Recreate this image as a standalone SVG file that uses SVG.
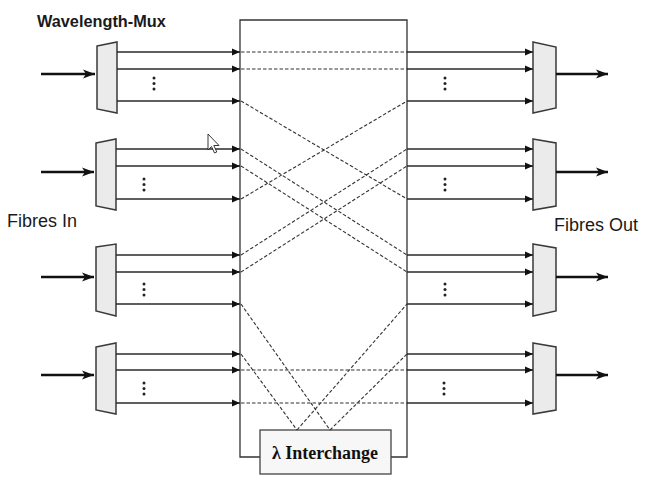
<svg xmlns="http://www.w3.org/2000/svg" width="647" height="488" viewBox="0 0 647 488">
<style>
.mux{fill:#ebebeb;stroke:#3a3a3a;stroke-width:1.5}
.sl{stroke:#2a2a2a;stroke-width:1.4;fill:none}
.dl{stroke:#333;stroke-width:1.1;stroke-dasharray:3.5 2;fill:none}
.big{stroke:#111;stroke-width:2.3;fill:none}
.frame{stroke:#333;stroke-width:1.3;fill:none}
.dot{fill:#222}
.lbl{font-family:"Liberation Sans",Arial,sans-serif;fill:#1a1a1a}
</style>
<defs>
<marker id="ah" viewBox="0 0 8 8" refX="8" refY="4" markerWidth="8" markerHeight="8" markerUnits="userSpaceOnUse" orient="auto">
<path d="M0,0.5 L8,4 L0,7.5 Z" fill="#111"/>
</marker>
<marker id="bh" viewBox="0 0 12 10" refX="12" refY="5" markerWidth="12" markerHeight="10" markerUnits="userSpaceOnUse" orient="auto">
<path d="M0,0.5 L12,5 L0,9.5 L3,5 Z" fill="#111"/>
</marker>
</defs>
<rect width="647" height="488" fill="#fff"/>

<text class="lbl" x="37" y="27" font-size="16.3" font-weight="bold">Wavelength-Mux</text>
<text class="lbl" x="7" y="227" font-size="18">Fibres In</text>
<text class="lbl" x="554" y="231" font-size="18">Fibres Out</text>

<g id="switch">
<path class="frame" d="M260,457 H240 V20 H407 V457 H391"/>
</g>
<g id="interchange">
<rect x="260" y="430" width="131" height="44" fill="#f7f7f7" stroke="#444" stroke-width="1.3"/>
<text x="272" y="458.5" textLength="106" lengthAdjust="spacingAndGlyphs" font-family="'Liberation Serif','Times New Roman',serif" font-weight="bold" font-size="18.5" fill="#111">λ Interchange</text>
</g>

<g id="demux-in-1"><polygon class="mux" points="97,46 117,42 117,113 97,109"/></g>
<g id="demux-in-2"><polygon class="mux" points="96,143 116,139 116,210 96,206"/></g>
<g id="demux-in-3"><polygon class="mux" points="96,247 116,244 116,316 96,311"/></g>
<g id="demux-in-4"><polygon class="mux" points="96,347 116,343 116,414 96,410"/></g>

<g id="mux-out-1"><polygon class="mux" points="533,42 556,47 556,108 533,113"/></g>
<g id="mux-out-2"><polygon class="mux" points="533,139 556,143 556,206 533,210"/></g>
<g id="mux-out-3"><polygon class="mux" points="533,244 556,248 556,311 533,316"/></g>
<g id="mux-out-4"><polygon class="mux" points="533,343 556,347 556,410 533,414"/></g>

<g id="dots">
<circle class="dot" cx="154" cy="78" r="1.5"/><circle class="dot" cx="154" cy="83.5" r="1.5"/><circle class="dot" cx="154" cy="89" r="1.5"/>
<circle class="dot" cx="144" cy="179" r="1.5"/><circle class="dot" cx="144" cy="184.5" r="1.5"/><circle class="dot" cx="144" cy="190" r="1.5"/>
<circle class="dot" cx="144" cy="284" r="1.5"/><circle class="dot" cx="144" cy="289.5" r="1.5"/><circle class="dot" cx="144" cy="295" r="1.5"/>
<circle class="dot" cx="144" cy="383" r="1.5"/><circle class="dot" cx="144" cy="388.5" r="1.5"/><circle class="dot" cx="144" cy="394" r="1.5"/>
<circle class="dot" cx="445" cy="78" r="1.5"/><circle class="dot" cx="445" cy="83.5" r="1.5"/><circle class="dot" cx="445" cy="89" r="1.5"/>
<circle class="dot" cx="445" cy="179" r="1.5"/><circle class="dot" cx="445" cy="184.5" r="1.5"/><circle class="dot" cx="445" cy="190" r="1.5"/>
<circle class="dot" cx="445" cy="284" r="1.5"/><circle class="dot" cx="445" cy="289.5" r="1.5"/><circle class="dot" cx="445" cy="295" r="1.5"/>
<circle class="dot" cx="444" cy="383" r="1.5"/><circle class="dot" cx="444" cy="388.5" r="1.5"/><circle class="dot" cx="444" cy="394" r="1.5"/>
</g>

<g id="connectors">
<line class="big" x1="41" y1="74" x2="95" y2="74" marker-end="url(#bh)"/>
<line class="big" x1="41" y1="172" x2="94" y2="172" marker-end="url(#bh)"/>
<line class="big" x1="41" y1="277" x2="94" y2="277" marker-end="url(#bh)"/>
<line class="big" x1="41" y1="375" x2="94" y2="375" marker-end="url(#bh)"/>
<line class="big" x1="556" y1="74" x2="608" y2="74" marker-end="url(#bh)"/>
<line class="big" x1="556" y1="172" x2="608" y2="172" marker-end="url(#bh)"/>
<line class="big" x1="556" y1="277" x2="608" y2="277" marker-end="url(#bh)"/>
<line class="big" x1="556" y1="375" x2="608" y2="375" marker-end="url(#bh)"/>
<line class="sl" x1="117" y1="52" x2="240" y2="52" marker-end="url(#ah)"/>
<line class="sl" x1="117" y1="69" x2="240" y2="69" marker-end="url(#ah)"/>
<line class="sl" x1="117" y1="101" x2="240" y2="101" marker-end="url(#ah)"/>
<line class="sl" x1="116" y1="149" x2="240" y2="149" marker-end="url(#ah)"/>
<line class="sl" x1="116" y1="166" x2="240" y2="166" marker-end="url(#ah)"/>
<line class="sl" x1="116" y1="199" x2="240" y2="199" marker-end="url(#ah)"/>
<line class="sl" x1="116" y1="255" x2="240" y2="255" marker-end="url(#ah)"/>
<line class="sl" x1="116" y1="272" x2="240" y2="272" marker-end="url(#ah)"/>
<line class="sl" x1="116" y1="304" x2="240" y2="304" marker-end="url(#ah)"/>
<line class="sl" x1="116" y1="354" x2="240" y2="354" marker-end="url(#ah)"/>
<line class="sl" x1="116" y1="370" x2="240" y2="370" marker-end="url(#ah)"/>
<line class="sl" x1="116" y1="403" x2="240" y2="403" marker-end="url(#ah)"/>
<line class="sl" x1="407" y1="52" x2="533" y2="52" marker-end="url(#ah)"/>
<line class="sl" x1="407" y1="69" x2="533" y2="69" marker-end="url(#ah)"/>
<line class="sl" x1="407" y1="101" x2="533" y2="101" marker-end="url(#ah)"/>
<line class="sl" x1="407" y1="149" x2="533" y2="149" marker-end="url(#ah)"/>
<line class="sl" x1="407" y1="166" x2="533" y2="166" marker-end="url(#ah)"/>
<line class="sl" x1="407" y1="199" x2="533" y2="199" marker-end="url(#ah)"/>
<line class="sl" x1="407" y1="255" x2="533" y2="255" marker-end="url(#ah)"/>
<line class="sl" x1="407" y1="272" x2="533" y2="272" marker-end="url(#ah)"/>
<line class="sl" x1="407" y1="304" x2="533" y2="304" marker-end="url(#ah)"/>
<line class="sl" x1="407" y1="354" x2="533" y2="354" marker-end="url(#ah)"/>
<line class="sl" x1="407" y1="370" x2="533" y2="370" marker-end="url(#ah)"/>
<line class="sl" x1="407" y1="403" x2="533" y2="403" marker-end="url(#ah)"/>
<line class="dl" x1="241" y1="52" x2="407" y2="52"/>
<line class="dl" x1="241" y1="69" x2="407" y2="69"/>
<line class="dl" x1="241" y1="101" x2="407" y2="199"/>
<line class="dl" x1="241" y1="149" x2="407" y2="255"/>
<line class="dl" x1="241" y1="166" x2="407" y2="272"/>
<line class="dl" x1="241" y1="199" x2="407" y2="101"/>
<line class="dl" x1="241" y1="255" x2="407" y2="149"/>
<line class="dl" x1="241" y1="272" x2="407" y2="166"/>
<line class="dl" x1="241" y1="304" x2="330" y2="430"/>
<line class="dl" x1="241" y1="354" x2="297" y2="430"/>
<line class="dl" x1="297" y1="430" x2="407" y2="304"/>
<line class="dl" x1="330" y1="430" x2="407" y2="354"/>
<line class="dl" x1="241" y1="370" x2="407" y2="370"/>
<line class="dl" x1="241" y1="403" x2="407" y2="403"/>
</g>

<path d="M208,134 L208,150 L211.5,146.5 L214.5,153 L216.8,152 L213.8,145.5 L219,145.5 Z" fill="#fff" stroke="#222" stroke-width="0.9" stroke-linejoin="round"/>
</svg>
